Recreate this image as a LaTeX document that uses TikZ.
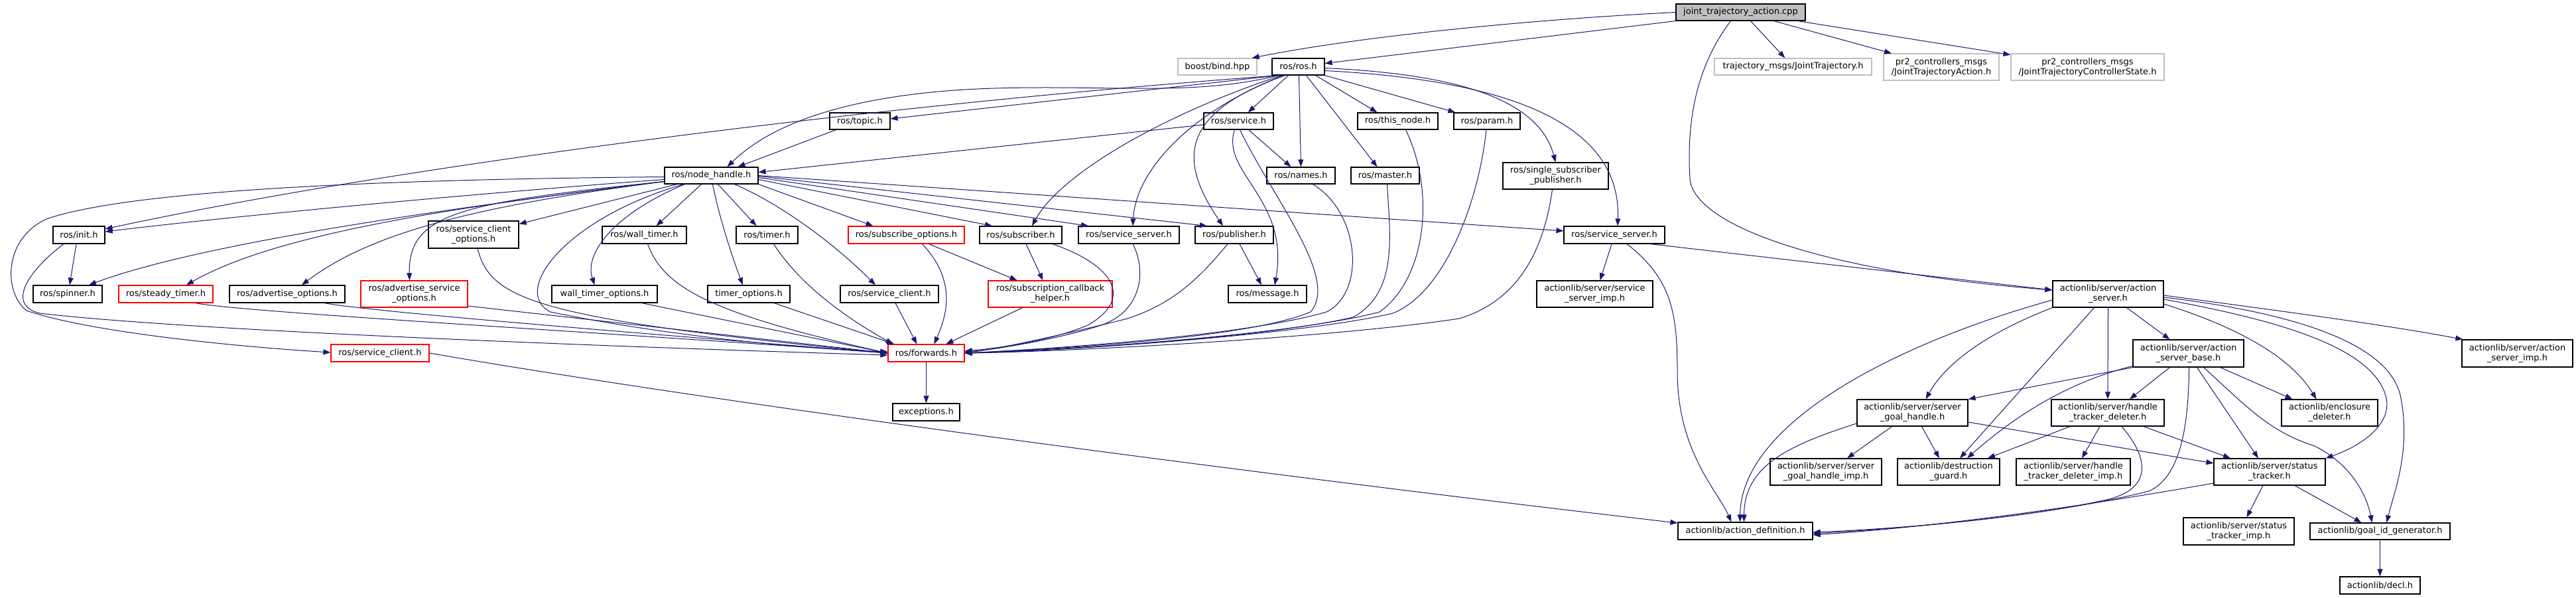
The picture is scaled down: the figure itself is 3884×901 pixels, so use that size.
\documentclass[tikz,border=0pt]{standalone}
\usepackage{fontspec}
\setmainfont{DejaVu Sans}
\usetikzlibrary{arrows.meta}
\definecolor{edgec}{HTML}{191970}
\definecolor{greyl}{HTML}{BFBFBF}
\tikzset{
  nb/.style={draw=black, line width=1.2pt, inner sep=0pt, align=center, fill=white,
     font=\fontsize{13}{15}\selectfont},
  trunc/.style={nb, draw=red},
  undoc/.style={nb, draw=greyl},
  rootn/.style={nb, fill=greyl, draw=black},
  e/.style={draw=edgec, line width=1pt, -{Triangle[length=11pt,width=8pt]}}
}
\newcommand\gnode[7]{\node[#1, minimum width={(#4)-(#2)}, minimum height={(#5)-(#3)}] (#6) at ({((#2)+(#4))/2},{((#3)+(#5))/2}) {#7};}
\begin{document}
\begin{tikzpicture}[x=1pt,y=-1pt]
\useasboundingbox (0,0) rectangle (3884,901);
% nodes
\gnode{rootn}{2527}{6}{2722}{31}{jta}{joint\_trajectory\_action.cpp}
\gnode{undoc}{1776}{88}{1895}{113}{boost}{boost/bind.hpp}
\gnode{nb}{1918}{88}{1997}{113}{ros}{ros/ros.h}
\gnode{undoc}{2585}{88}{2822}{113}{traj}{trajectory\_msgs/JointTrajectory.h}
\gnode{undoc}{2840}{81}{3014}{121}{pr2a}{pr2\_controllers\_msgs\\/JointTrajectoryAction.h}
\gnode{undoc}{3032}{81}{3263}{121}{pr2s}{pr2\_controllers\_msgs\\/JointTrajectoryControllerState.h}
\gnode{nb}{1251}{170}{1342}{195}{topic}{ros/topic.h}
\gnode{nb}{1815}{170}{1920}{195}{service}{ros/service.h}
\gnode{nb}{2047}{170}{2168}{195}{thisnode}{ros/this\_node.h}
\gnode{nb}{2192}{170}{2292}{195}{param}{ros/param.h}
\gnode{nb}{1002}{252}{1143}{277}{nh}{ros/node\_handle.h}
\gnode{nb}{1910}{252}{2013}{277}{names}{ros/names.h}
\gnode{nb}{2037}{252}{2140}{277}{master}{ros/master.h}
\gnode{nb}{2266}{245}{2425}{285}{ssp}{ros/single\_subscriber\\\_publisher.h}
\gnode{nb}{80}{341}{158}{367}{init}{ros/init.h}
\gnode{nb}{646}{333}{782}{374}{sco}{ros/service\_client\\\_options.h}
\gnode{nb}{908}{341}{1035}{367}{wt}{ros/wall\_timer.h}
\gnode{nb}{1110}{341}{1203}{367}{timer}{ros/timer.h}
\gnode{trunc}{1279}{341}{1454}{367}{subopt}{ros/subscribe\_options.h}
\gnode{nb}{1477}{341}{1601}{367}{subscriber}{ros/subscriber.h}
\gnode{nb}{1626}{341}{1778}{367}{ssa}{ros/service\_server.h}
\gnode{nb}{1802}{341}{1920}{367}{publisher}{ros/publisher.h}
\gnode{nb}{2358}{341}{2510}{367}{ssb}{ros/service\_server.h}
\gnode{nb}{3095}{423}{3262}{463}{as}{actionlib/server/action\\\_server.h}
\gnode{nb}{50}{430}{154}{456}{spinner}{ros/spinner.h}
\gnode{trunc}{179}{430}{321}{456}{steady}{ros/steady\_timer.h}
\gnode{nb}{346}{430}{520}{456}{advopt}{ros/advertise\_options.h}
\gnode{trunc}{544}{423}{705}{463}{advsvc}{ros/advertise\_service\\\_options.h}
\gnode{nb}{832}{430}{991}{456}{wto}{wall\_timer\_options.h}
\gnode{nb}{1067}{430}{1191}{456}{to}{timer\_options.h}
\gnode{nb}{1267}{430}{1415}{456}{scb}{ros/service\_client.h}
\gnode{trunc}{1490}{423}{1677}{463}{sch}{ros/subscription\_callback\\\_helper.h}
\gnode{nb}{1852}{430}{1970}{456}{message}{ros/message.h}
\gnode{nb}{2317}{423}{2492}{463}{ssi}{actionlib/server/service\\\_server\_imp.h}
\gnode{nb}{3216}{512}{3383}{553}{asb}{actionlib/server/action\\\_server\_base.h}
\gnode{nb}{3712}{512}{3879}{553}{asi}{actionlib/server/action\\\_server\_imp.h}
\gnode{trunc}{499}{519}{647}{545}{scr}{ros/service\_client.h}
\gnode{trunc}{1339}{519}{1454}{545}{fw}{ros/forwards.h}
\gnode{nb}{1346}{608}{1447}{634}{exc}{exceptions.h}
\gnode{nb}{2800}{602}{2967}{642}{sgh}{actionlib/server/server\\\_goal\_handle.h}
\gnode{nb}{3093}{602}{3263}{642}{htd}{actionlib/server/handle\\\_tracker\_deleter.h}
\gnode{nb}{3440}{602}{3585}{642}{ed}{actionlib/enclosure\\\_deleter.h}
\gnode{nb}{2669}{691}{2837}{731}{sghi}{actionlib/server/server\\\_goal\_handle\_imp.h}
\gnode{nb}{2861}{691}{3015}{731}{dg}{actionlib/destruction\\\_guard.h}
\gnode{nb}{3040}{691}{3212}{731}{htdi}{actionlib/server/handle\\\_tracker\_deleter\_imp.h}
\gnode{nb}{3338}{691}{3506}{731}{st}{actionlib/server/status\\\_tracker.h}
\gnode{nb}{2530}{787}{2733}{813}{ad}{actionlib/action\_definition.h}
\gnode{nb}{3292}{780}{3459}{821}{sti}{actionlib/server/status\\\_tracker\_imp.h}
\gnode{nb}{3483}{788}{3694}{813}{gig}{actionlib/goal\_id\_generator.h}
\gnode{nb}{3528}{869}{3649}{895}{decl}{actionlib/decl.h}
% edges: root
\draw[e] (jta.west) .. controls (2300,30) and (2050,55) .. ([xshift=-8pt]boost.north east);
\draw[e] (jta.south west) -- ([yshift=5pt]ros.east);
\draw[e] ([xshift=15pt]jta.south) -- (traj);
\draw[e] ([xshift=50pt]jta.south) -- (pr2a);
\draw[e] ([xshift=-12pt]jta.south east) -- (pr2s);
\draw[e] ([xshift=-15pt]jta.south) .. controls (2550,110) and (2544,200) .. (2548,270) .. controls (2555,340) and (2750,410) .. ([yshift=6pt]as.west);
% ros.h
\draw[e] ([xshift=-30pt]ros.south) -- ([yshift=3.5pt]topic.east);
\draw[e] ([xshift=-30pt]ros.south) .. controls (1800,145) and (1680,128) .. (1500,133) .. controls (1330,138) and (1180,170) .. ([xshift=24pt]nh.north);
\draw[e] ([xshift=-30pt]ros.south) .. controls (1300,160) and (600,250) .. ([yshift=9pt]init.east);
\draw[e] ([xshift=-15pt]ros.south) -- (service);
\draw[e] ([xshift=1pt]ros.south) -- (names.north);
\draw[e] ([xshift=12pt]ros.south) -- ([xshift=-12pt]master.north);
\draw[e] ([xshift=26pt]ros.south) -- ([xshift=-31pt]thisnode.north);
\draw[e] (ros.south east) -- ([xshift=3pt]param.north west);
\draw[e] ([yshift=-2pt]ros.east) .. controls (2200,112) and (2320,150) .. (ssp.north);
\draw[e] ([yshift=-6pt]ros.east) .. controls (2260,120) and (2445,180) .. ([xshift=5pt]ssb.north);
\draw[e] ([xshift=-25pt]ros.south) .. controls (1760,170) and (1600,260) .. ([xshift=17pt]subscriber.north);
\draw[e] ([xshift=-22pt]ros.south) .. controls (1790,170) and (1712,260) .. ([xshift=6pt]ssa.north);
\draw[e] ([xshift=-20pt]ros.south) .. controls (1780,170) and (1775,240) .. ([xshift=-17pt]publisher.north);
% topic, service
\draw[e] ([xshift=-36pt]topic.south) -- ([xshift=40pt]nh.north);
\draw[e] ([yshift=-5.5pt]service.west) -- ([yshift=5pt]nh.east);
\draw[e] ([xshift=15pt]service.south) -- ([xshift=-15pt]names.north);
\draw[e] ([xshift=-6pt]service.south) .. controls (1840,260) and (1945,300) .. ([xshift=11pt]message.north);
\draw[e] ([xshift=2pt]service.south) .. controls (1920,300) and (2020,420) .. (1976,470) .. controls (1880,510) and (1600,525) .. (fw.east);
% names, master, this_node, param, ssp
\draw[e] ([xshift=18pt]names.south) .. controls (2050,320) and (2060,440) .. (2000,470) .. controls (1880,505) and (1600,525) .. (fw.east);
\draw[e] ([xshift=3pt]master.south) .. controls (2095,350) and (2110,440) .. (2040,478) .. controls (1900,510) and (1600,527) .. (fw.east);
\draw[e] ([xshift=12pt]thisnode.south) .. controls (2165,290) and (2150,420) .. (2080,470) .. controls (1950,505) and (1600,528) .. (fw.east);
\draw[e] ([xshift=-1pt]param.south) .. controls (2230,300) and (2180,440) .. (2100,472) .. controls (1960,505) and (1600,529) .. (fw.east);
\draw[e] ([xshift=-5pt]ssp.south) .. controls (2330,360) and (2300,450) .. (2200,480) .. controls (2000,510) and (1600,530) .. (fw.east);
% node_handle
\draw[e] ([yshift=-6pt]nh.west) .. controls (800,285) and (400,320) .. ([yshift=5pt]init.east);
\draw[e] ([yshift=-9pt]nh.west) .. controls (750,305) and (320,360) .. ([xshift=32pt]spinner.north);
\draw[e] ([yshift=-9pt]nh.west) .. controls (700,310) and (420,350) .. ([xshift=31pt]steady.north);
\draw[e] ([yshift=-9pt]nh.west) .. controls (720,310) and (560,350) .. ([xshift=22pt]advopt.north);
\draw[e] ([yshift=-9pt]nh.west) .. controls (700,305) and (615,320) .. ([xshift=-7pt]advsvc.north);
\draw[e] ([xshift=-52pt]nh.south) -- ([yshift=16pt]sco.east);
\draw[e] ([xshift=-15pt]nh.south) -- ([xshift=18pt]wt.north);
\draw[e] ([xshift=-40pt]nh.south) .. controls (930,320) and (880,380) .. ([xshift=-15pt]wto.north);
\draw[e] ([xshift=10pt]nh.south) -- ([xshift=-16pt]timer.north);
\draw[e] ([xshift=2pt]nh.south) .. controls (1085,330) and (1105,390) .. ([xshift=-9pt]to.north);
\draw[e] ([xshift=35pt]nh.south) .. controls (1160,300) and (1240,350) .. ([xshift=-21pt]scb.north);
\draw[e] (nh.south east) -- ([xshift=-50pt]subopt.north);
\draw[e] ([yshift=-6pt]nh.east) -- ([xshift=-43pt]subscriber.north);
\draw[e] ([yshift=-3pt]nh.east) -- ([xshift=-61pt]ssa.north);
\draw[e] ([yshift=-1pt]nh.east) -- ([xshift=-41pt]publisher.north);
\draw[e] (nh.east) -- ([yshift=6pt]ssb.west);
\draw[e] ([xshift=-42pt]nh.south) .. controls (850,330) and (770,440) .. (830,470) .. controls (1000,505) and (1200,525) .. ([yshift=2pt]fw.west);
\draw[e] ([yshift=-2pt]nh.west) .. controls (600,270) and (200,285) .. (70,330) .. controls (5,360) and (5,440) .. (40,468) .. controls (150,505) and (400,525) .. ([yshift=1pt]scr.west);
% init
\draw[e] ([xshift=-4pt]init.south) -- ([xshift=3pt]spinner.north);
\draw[e] ([xshift=-23pt]init.south) .. controls (40,410) and (10,460) .. (60,472) .. controls (300,500) and (1000,525) .. ([yshift=-3pt]fw.west);
% into forwards
\draw[e] ([xshift=45pt]steady.south) .. controls (360,470) and (900,500) .. (fw.west);
\draw[e] ([xshift=56pt]advopt.south) .. controls (560,470) and (1000,505) .. (fw.west);
\draw[e] ([yshift=-18pt]advsvc.east) -- (fw.west);
\draw[e] ([xshift=6pt]sco.south) .. controls (740,450) and (800,480) .. (fw.west);
\draw[e] ([xshift=5pt]wt.south) .. controls (1000,430) and (1060,470) .. (fw.west);
\draw[e] ([xshift=56pt]wto.south) -- (fw.west);
\draw[e] ([xshift=10pt]timer.south) .. controls (1200,420) and (1260,470) .. ([xshift=8pt]fw.north west);
\draw[e] ([xshift=38pt]to.south) -- ([xshift=10pt]fw.north west);
\draw[e] ([xshift=9pt]scb.south) -- ([xshift=44pt]fw.north west);
\draw[e] ([xshift=24pt]subopt.south) .. controls (1440,420) and (1430,470) .. ([xshift=70pt]fw.north west);
\draw[e] ([xshift=34pt]subopt.south) -- ([xshift=-50pt]sch.north);
\draw[e] ([xshift=8pt]subscriber.south) -- ([xshift=-11pt]sch.north);
\draw[e] ([xshift=48pt]subscriber.south) .. controls (1680,400) and (1710,450) .. (1640,490) .. controls (1580,515) and (1500,525) .. ([yshift=3pt]fw.east);
\draw[e] ([xshift=-42pt]sch.south) -- ([xshift=88pt]fw.north west);
\draw[e] ([xshift=6pt]ssa.south) .. controls (1730,410) and (1720,470) .. (1660,490) .. controls (1600,510) and (1500,527) .. ([yshift=2pt]fw.east);
\draw[e] ([xshift=-10pt]publisher.south) .. controls (1800,430) and (1760,460) .. (1700,480) .. controls (1600,505) and (1500,527) .. ([yshift=1pt]fw.east);
\draw[e] ([xshift=8pt]publisher.south) -- ([xshift=-9pt]message.north);
\draw[e] (fw) -- (exc);
% actionlib service server
\draw[e] ([xshift=-4pt]ssb.south) -- ([xshift=8pt]ssi.north);
\draw[e] ([xshift=19pt]ssb.south) .. controls (2520,420) and (2529,470) .. (2529,560) .. controls (2529,680) and (2590,740) .. ([xshift=-21pt]ad.north);
\draw[e] ([xshift=54pt]ssb.south) -- ([yshift=6pt]as.west);
\draw[e] (scr.east) .. controls (1100,610) and (1900,715) .. ([yshift=12pt]ad.west);
% action_server
\draw[e] ([yshift=-9pt]as.west) .. controls (2850,520) and (2625,640) .. ([xshift=-8pt]ad.north);
\draw[e] (as.south west) .. controls (3000,500) and (2935,545) .. ([xshift=20pt]sgh.north);
\draw[e] ([xshift=-21pt]as.south) -- ([xshift=17pt]dg.north);
\draw[e] (as.south) -- (htd.north);
\draw[e] ([xshift=28pt]as.south) -- ([xshift=-28pt]asb.north);
\draw[e] ([yshift=-2pt]as.east) .. controls (3450,470) and (3600,490) .. ([xshift=2pt]asi.north west);
\draw[e] ([yshift=-15pt]as.east) .. controls (3380,495) and (3455,540) .. ([xshift=-20pt]ed.north);
\draw[e] ([yshift=-8pt]as.east) .. controls (3420,480) and (3580,520) .. (3598,600) .. controls (3606,640) and (3560,672) .. (st.north east);
\draw[e] ([yshift=-5pt]as.east) .. controls (3450,470) and (3605,515) .. (3620,600) .. controls (3635,680) and (3610,740) .. ([xshift=10pt]gig.north);
% action_server_base
\draw[e] (asb.south west) -- (sgh.north east);
\draw[e] ([yshift=2pt]asb.south west) .. controls (3120,575) and (3040,625) .. ([xshift=28pt]dg.north);
\draw[e] ([xshift=-28pt]asb.south) -- ([xshift=33pt]htd.north);
\draw[e] ([xshift=1pt]asb.south) .. controls (3300,650) and (3285,720) .. (3240,740) .. controls (3100,775) and (2900,795) .. ([yshift=-2pt]ad.east);
\draw[e] ([xshift=13pt]asb.south) -- ([xshift=-17pt]st.north);
\draw[e] ([xshift=23pt]asb.south) .. controls (3385,610) and (3420,650) .. (3490,672) .. controls (3545,700) and (3568,745) .. ([xshift=-12pt]gig.north);
\draw[e] ([xshift=48pt]asb.south) -- ([xshift=-56pt]ed.north);
% server_goal_handle
\draw[e] ([xshift=-31pt]sgh.south) -- ([xshift=32pt]sghi.north);
\draw[e] ([yshift=-16pt]sgh.west) .. controls (2700,670) and (2630,700) .. ([xshift=-2pt]ad.north);
\draw[e] ([xshift=14pt]sgh.south) -- ([xshift=-14pt]dg.north);
\draw[e] ([yshift=-14pt]sgh.east) -- ([yshift=13pt]st.west);
% handle_tracker_deleter
\draw[e] ([xshift=-57pt]htd.south) -- ([xshift=59pt]dg.north);
\draw[e] ([xshift=-12pt]htd.south) -- ([xshift=13pt]htdi.north);
\draw[e] ([xshift=54pt]htd.south) -- ([xshift=-59pt]st.north);
\draw[e] ([xshift=21pt]htd.south) .. controls (3240,690) and (3245,735) .. (3180,752) .. controls (3050,782) and (2850,797) .. ([yshift=-4pt]ad.east);
% status tracker
\draw[e] ([xshift=-10pt]st.south) -- ([xshift=12pt]sti.north);
\draw[e] ([xshift=38pt]st.south) -- ([xshift=-28pt]gig.north);
\draw[e] ([yshift=-17pt]st.west) .. controls (3100,770) and (2900,795) .. ([yshift=-6pt]ad.east);
\draw[e] (gig) -- (decl);
\end{tikzpicture}
\end{document}
